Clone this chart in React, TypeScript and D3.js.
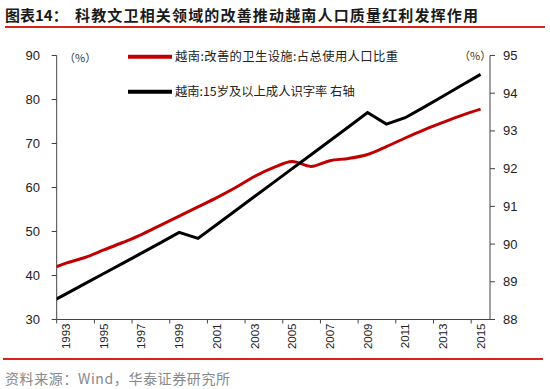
import React from "react";
import * as d3 from "d3";

// Years (1992 value only used for the clipped segment entering at the left edge)
const years = [1992, 1993, 1994, 1995, 1996, 1997, 1998, 1999, 2000, 2001, 2002, 2003, 2004, 2005, 2006, 2007, 2008, 2009, 2010, 2011, 2012, 2013, 2014, 2015];
// 越南:改善的卫生设施:占总使用人口比重 (left axis, %)
const sanitation = [41.2, 42.8, 44.1, 45.8, 47.5, 49.3, 51.4, 53.5, 55.6, 57.7, 60.0, 62.5, 64.5, 65.9, 64.8, 66.1, 66.6, 67.5, 69.3, 71.25, 73.1, 74.8, 76.4, 77.8];
// 越南:15岁及以上成人识字率 (right axis, %)
const literacy = [88.41, 88.68, 88.95, 89.22, 89.49, 89.76, 90.03, 90.31, 90.15, 90.52, 90.89, 91.26, 91.63, 92.0, 92.37, 92.74, 93.11, 93.49, 93.18, 93.35, 93.63, 93.92, 94.21, 94.5];

const xLabels = [1993, 1995, 1997, 1999, 2001, 2003, 2005, 2007, 2009, 2011, 2013, 2015];
const leftTicks = [30, 40, 50, 60, 70, 80, 90];
const rightTicks = [88, 89, 90, 91, 92, 93, 94, 95];

const seriesNames = ["越南:改善的卫生设施:占总使用人口比重", "越南:15岁及以上成人识字率 右轴"];
const titleLead = "图表14：";
const title = "科教文卫相关领域的改善推动越南人口质量红利发挥作用";
const source = "资料来源：Wind，华泰证券研究所";

const W = 550, H = 389;
const L = 56.7, R = 490, T = 55.5, B = 319.5;

export default function App() {
  const x = d3.scaleLinear().domain([1992.5, 2015.5]).range([L, R]);
  const yL = d3.scaleLinear().domain([30, 90]).range([B, T]);
  const yR = d3.scaleLinear().domain([88, 95]).range([B, T]);

  const redLine = d3.line<number>()
    .x((_, i) => x(years[i]))
    .y((d) => yL(d))
    .curve(d3.curveCatmullRom.alpha(0.5))(sanitation) || "";
  const blackLine = d3.line<number>()
    .x((_, i) => x(years[i]))
    .y((d) => yR(d))(literacy) || "";

  const boundaryTicks = xLabels.map((y) => y - 0.5);
  const axisColor = "#444";
  const font = "'Liberation Sans', Arial, sans-serif";
  const cjk = "'Noto Sans CJK SC', sans-serif";

  return (
    <svg width={W} height={H} style={{ position: "absolute", left: 0, top: 0, background: "#fff" }}>
      <defs>
        <clipPath id="plot">
          <rect x={L} y={30} width={R - L} height={300} />
        </clipPath>
      </defs>
      <rect x={0} y={0} width={W} height={H} fill="#fff" />
      {/* Title */}
      <text x={5} y={21} fontFamily={cjk} fontWeight="bold" fontSize={15} fill="#1a1a1a">{titleLead}</text>
      <text x={75} y={21} fontFamily={cjk} fontWeight="bold" fontSize={15} fill="#1a1a1a" textLength={403} lengthAdjust="spacing">{title}</text>
      <line x1={5} x2={545} y1={27} y2={27} stroke="#D9261C" strokeWidth={2} />

      {/* Left axis */}
      <line x1={L} x2={L} y1={T} y2={B} stroke={axisColor} strokeWidth={1} />
      {leftTicks.map((t) => (
        <g key={"l" + t}>
          <line x1={L - 5} x2={L} y1={yL(t)} y2={yL(t)} stroke={axisColor} />
          <text x={40} y={yL(t)} dy="0.35em" textAnchor="end" fontFamily={font} fontSize={13} fill="#222">{t}</text>
        </g>
      ))}
      {/* Right axis */}
      <line x1={R} x2={R} y1={T} y2={B} stroke={axisColor} strokeWidth={1} />
      {rightTicks.map((t) => (
        <g key={"r" + t}>
          <line x1={R} x2={R + 5} y1={yR(t)} y2={yR(t)} stroke={axisColor} />
          <text x={503} y={yR(t)} dy="0.35em" textAnchor="start" fontFamily={font} fontSize={13} fill="#222">{t}</text>
        </g>
      ))}
      {/* X axis */}
      <line x1={L} x2={R} y1={B} y2={B} stroke={axisColor} strokeWidth={1} />
      {boundaryTicks.map((t) => (
        <line key={"xt" + t} x1={x(t)} x2={x(t)} y1={B} y2={B + 4} stroke={axisColor} />
      ))}
      {xLabels.map((yr) => (
        <text key={"xl" + yr} transform={`translate(${x(yr) + 4},${B + 4}) rotate(-90)`} textAnchor="end" fontFamily={font} fontSize={11.5} fill="#222">{yr}</text>
      ))}

      {/* Units */}
      <text x={64} y={62} fontFamily={cjk} fontSize={11} fill="#333">（%）</text>
      <text x={459} y={60} fontFamily={cjk} fontSize={11} fill="#333">（%）</text>

      {/* Lines */}
      <g clipPath="url(#plot)">
        <path d={redLine} fill="none" stroke="#C00000" strokeWidth={3} />
        <path d={blackLine} fill="none" stroke="#000" strokeWidth={3} strokeLinejoin="miter" />
      </g>

      {/* Legend */}
      <line x1={128} x2={172} y1={56.7} y2={56.7} stroke="#C00000" strokeWidth={4} />
      <text x={175} y={56.7} dy="0.35em" fontFamily={cjk} fontSize={12.3} fill="#222" textLength={223} lengthAdjust="spacing">{seriesNames[0]}</text>
      <line x1={128} x2={172} y1={91.7} y2={91.7} stroke="#000" strokeWidth={4} />
      <text x={175} y={91.7} dy="0.35em" fontFamily={cjk} fontSize={12.3} fill="#222" xmlSpace="preserve">{seriesNames[1]}</text>

      {/* Footer */}
      <line x1={3} x2={543} y1={359} y2={359} stroke="#D9261C" strokeWidth={2} />
      <text x={5} y={384} fontFamily={cjk} fontSize={14} fill="#888" textLength={225} lengthAdjust="spacing">{source}</text>
    </svg>
  );
}
